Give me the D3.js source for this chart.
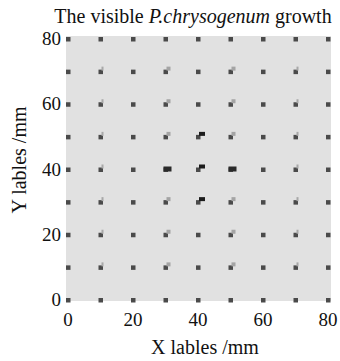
<!DOCTYPE html>
<html>
<head>
<meta charset="utf-8">
<script src="https://cdn.jsdelivr.net/npm/d3@7"></script>
<style>
  body { margin: 0; background: #fff; }
  text { font-family: "Liberation Serif", "Times New Roman", serif; fill: #111; }
</style>
</head>
<body>
<div id="chart"></div>
<script>
// grid positions (mm)
const xVals = [0, 10, 20, 30, 40, 50, 60, 70, 80]
const yVals = [80, 70, 60, 50, 40, 30, 20, 10, 0]
const tickVals = [0, 20, 40, 60, 80]

// visible growth level at each point, rows from y=80 down to y=0
const growth = [
    [0, 0, 0, 0, 0, 0, 0, 0, 0],
    [0, 1, 0, 2, 0, 2, 0, 1, 0],
    [0, 1, 0, 2, 0, 2, 0, 1, 0],
    [0, 1, 0, 2, 3, 2, 0, 1, 0],
    [0, 1, 0, 4, 3, 4, 0, 1, 0],
    [0, 1, 0, 2, 3, 2, 0, 1, 0],
    [0, 1, 0, 2, 0, 2, 0, 1, 0],
    [0, 1, 0, 2, 0, 2, 0, 1, 0],
    [0, 0, 0, 0, 0, 0, 0, 0, 0]
]

const W = 340, H = 361

const svg = d3.select('div#chart')
    .append('svg')
    .attr('width', W)
    .attr('height', H)

const x = d3.scaleLinear().domain([0, 80]).range([68, 328])
const y = d3.scaleLinear().domain([0, 80]).range([300, 39])

// background of axes
svg.append('rect')
    .attr('x', 66).attr('y', 36)
    .attr('width', 331 - 66).attr('height', 301 - 36)
    .style('fill', '#e1e1e1')

let points = []
yVals.forEach((yv, r) => {
    xVals.forEach((xv, c) => {
        points.push({x: xv, y: yv, g: growth[r][c]})
    })
})

// growth marker looks (level -> size / offset / colour)
const gw = d3.scaleOrdinal().domain([1, 2, 3, 4]).range([2, 4, 6, 8])
const gh = d3.scaleOrdinal().domain([1, 2, 3, 4]).range([4, 4, 4, 5])
const gdx = d3.scaleOrdinal().domain([1, 2, 3, 4]).range([1, 1, 1, -2])
const gdy = d3.scaleOrdinal().domain([1, 2, 3, 4]).range([-5, -5, -5, -3])
const gcol = d3.scaleOrdinal().domain([1, 2, 3, 4]).range(['#a8a8a8', '#a4a4a4', '#1c1c1c', '#2a2a2a'])

// base squares
svg.selectAll('rect.base')
    .data(points)
    .enter()
    .append('rect')
    .classed('base', true)
    .attr('x', d => x(d.x) - 2)
    .attr('y', d => y(d.y) - 2)
    .attr('width', 4.5)
    .attr('height', 4.5)
    .style('fill', '#4a4a4a')

// growth squares
svg.selectAll('rect.grow')
    .data(points.filter(d => d.g > 0))
    .enter()
    .append('rect')
    .classed('grow', true)
    .attr('x', d => x(d.x) + gdx(d.g))
    .attr('y', d => y(d.y) + gdy(d.g))
    .attr('width', d => gw(d.g))
    .attr('height', d => gh(d.g))
    .style('fill', d => gcol(d.g))

// axes labels
svg.selectAll('text.xt')
    .data(tickVals)
    .enter()
    .append('text')
    .classed('xt', true)
    .text(d => d)
    .attr('x', d => x(d))
    .attr('y', 326)
    .attr('text-anchor', 'middle')
    .style('font-size', '19px')

svg.selectAll('text.yt')
    .data(tickVals)
    .enter()
    .append('text')
    .classed('yt', true)
    .text(d => d)
    .attr('x', 61)
    .attr('y', d => y(d) + 6)
    .attr('text-anchor', 'end')
    .style('font-size', '19px')

svg.append('text')
    .text('X lables /mm')
    .attr('x', 205)
    .attr('y', 354)
    .attr('text-anchor', 'middle')
    .style('font-size', '20px')

svg.append('text')
    .text('Y lables /mm')
    .attr('transform', 'translate(26,160) rotate(-90)')
    .attr('text-anchor', 'middle')
    .style('font-size', '20px')

const title = svg.append('text')
    .attr('x', 193)
    .attr('y', 23)
    .attr('text-anchor', 'middle')
    .style('font-size', '20px')
title.append('tspan').text('The visible ')
title.append('tspan').text('P.chrysogenum').style('font-style', 'italic')
title.append('tspan').text(' growth')
</script>
</body>
</html>
